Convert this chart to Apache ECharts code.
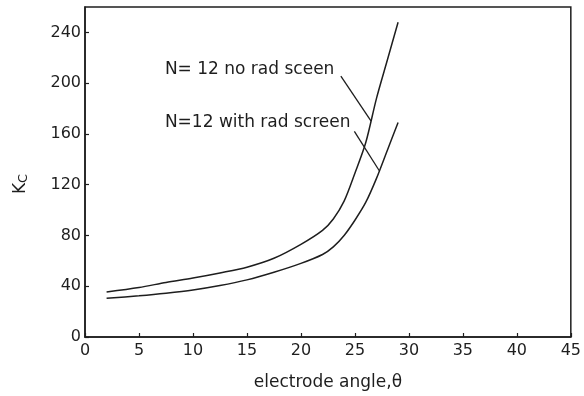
<!DOCTYPE html>
<html>
<head>
<meta charset="utf-8">
<script src="https://cdn.jsdelivr.net/npm/echarts@6/dist/echarts.min.js"></script>
<style>
  html, body { margin: 0; padding: 0; background: #fff; }
  #chart { width: 584px; height: 396px; }
</style>
</head>
<body>
<div id="chart"></div>
<script>
// Electrode angle (degrees) sampled along both curves
const angles = [2, 5, 7.5, 10, 12.5, 15, 17.5, 20, 22, 23, 24, 25, 26, 27, 28, 29];
// K_C without radiation screen
const noScreen = [35.5, 39, 43, 46.5, 50.5, 55, 62, 73, 84, 93, 107, 129, 153, 188, 218, 248];
// K_C with radiation screen
const withScreen = [30.5, 32.5, 34.5, 37, 40.5, 45, 51, 58, 65, 71, 80, 92, 106, 125, 147, 169];

const xTicks = [0, 5, 10, 15, 20, 25, 30, 35, 40, 45];
const yTicks = [0, 40, 80, 120, 160, 200, 240];

// Curve labels and their leader lines, in data units
const labelNoScreen = { text: 'N= 12 no rad sceen', at: [7.4, 210.5], from: [23.7, 205.5], to: [26.5, 170] };
const labelWithScreen = { text: 'N=12 with rad screen', at: [7.4, 169], from: [24.95, 162], to: [27.26, 131] };

const ink = '#1e1e1e';
const font = 'DejaVu Sans';

function pairs(xs, ys) { return xs.map((x, i) => [x, ys[i]]); }

function curve(name, values, lbl) {
  return {
    name: name,
    type: 'line',
    data: pairs(angles, values),
    smooth: 0.3,
    symbol: 'none',
    lineStyle: { color: ink, width: 1.5 },
    z: 3,
    markLine: {
      silent: true,
      symbol: 'none',
      label: { show: false },
      lineStyle: { color: ink, width: 1.3, type: 'solid' },
      data: [[{ coord: lbl.from }, { coord: lbl.to }]]
    },
    markPoint: {
      silent: true,
      symbol: 'circle',
      symbolSize: 0,
      data: [{ coord: lbl.at }],
      label: {
        show: true,
        position: 'right',
        distance: 0,
        formatter: lbl.text,
        color: ink,
        fontFamily: font,
        fontSize: 17
      }
    }
  };
}

const chart = echarts.init(document.getElementById('chart'), null, { renderer: 'canvas' });
chart.setOption({
  animation: false,
  backgroundColor: '#fff',
  grid: {
    left: 85, right: 12, top: 7, bottom: 57,
    show: true, borderColor: ink, borderWidth: 1.5, backgroundColor: 'transparent'
  },
  xAxis: {
    type: 'value',
    min: xTicks[0], max: xTicks[xTicks.length - 1], interval: 5,
    name: 'electrode angle,\u03b8',
    nameLocation: 'middle',
    nameGap: 37,
    nameTextStyle: { color: ink, fontFamily: font, fontSize: 17 },
    axisLine: { show: true, lineStyle: { color: ink, width: 1.5 } },
    axisTick: { show: true, inside: true, length: 4, lineStyle: { color: ink, width: 1.2 } },
    axisLabel: { color: ink, fontFamily: font, fontSize: 16, margin: 6 },
    splitLine: { show: false }
  },
  yAxis: {
    type: 'value',
    min: yTicks[0], max: 260, interval: 40,
    name: 'K{sub|C}',
    nameLocation: 'middle',
    nameGap: 55,
    nameTextStyle: {
      color: ink, fontFamily: font, fontSize: 17, padding: [0, 24, 0, 0],
      rich: { sub: { fontFamily: font, fontSize: 13, color: ink, verticalAlign: 'bottom', padding: [6, 0, 0, 0] } }
    },
    axisLine: { show: true, lineStyle: { color: ink, width: 1.5 } },
    axisTick: { show: true, inside: true, length: 4, lineStyle: { color: ink, width: 1.2 } },
    axisLabel: { color: ink, fontFamily: font, fontSize: 16, margin: 4, showMaxLabel: false,
      formatter: v => (yTicks.indexOf(v) >= 0 ? String(v) : '') },
    splitLine: { show: false }
  },
  series: [
    curve('no rad screen', noScreen, labelNoScreen),
    curve('with rad screen', withScreen, labelWithScreen)
  ]
});
</script>
</body>
</html>
